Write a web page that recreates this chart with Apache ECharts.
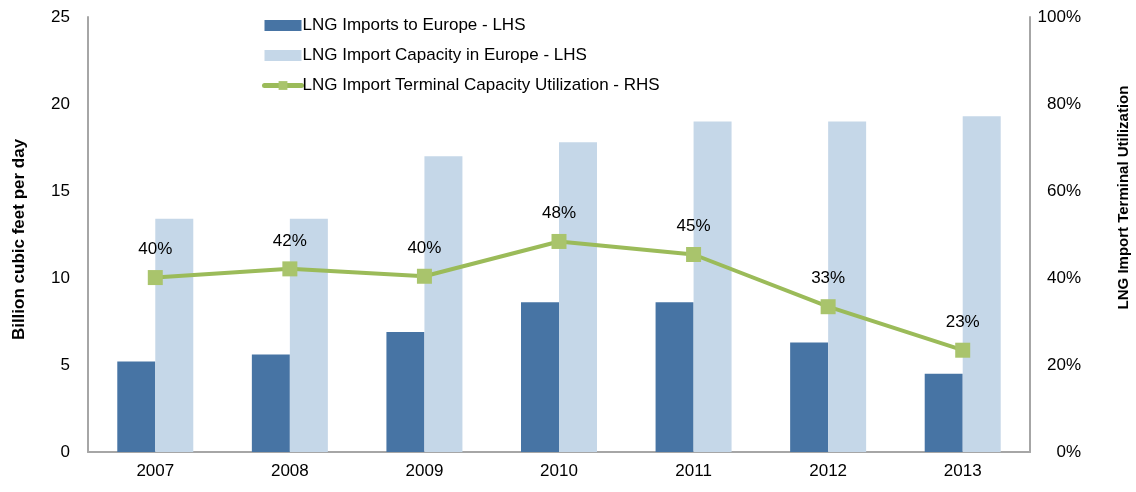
<!DOCTYPE html>
<html>
<head>
<meta charset="utf-8">
<script src="https://cdn.jsdelivr.net/npm/echarts@6/dist/echarts.min.js"></script>
<style>html,body{margin:0;padding:0;background:#fff}#c{width:1136px;height:492px}</style>
</head>
<body>
<div id="c"></div>
<script>
const categories = ['2007','2008','2009','2010','2011','2012','2013'];
const imports = [5.2, 5.6, 6.9, 8.6, 8.6, 6.3, 4.5];
const capacity = [13.4, 13.4, 17.0, 17.8, 19.0, 19.0, 19.3];
const utilization = [40.1, 42.1, 40.4, 48.4, 45.4, 33.4, 23.4];
const seriesNames = ['LNG Imports to Europe - LHS','LNG Import Capacity in Europe - LHS','LNG Import Terminal Capacity Utilization - RHS'];

const FONT = "'Liberation Sans', Arial, sans-serif";
const FS = 17;
const chart = echarts.init(document.getElementById('c'), null, {renderer:'canvas'});
chart.setOption({
  animation:false,
  backgroundColor:'#fff',
  textStyle:{fontFamily:FONT,color:'#000'},
  grid:{left:88,right:106,top:17,bottom:40,outerBoundsMode:'none',containLabel:false},
  legend:{
    orient:'vertical', left:257, top:12, itemGap:13,
    itemWidth:37, itemHeight:11,
    textStyle:{fontFamily:FONT,fontSize:FS,color:'#000',padding:[0,0,0,-4]},
    data:[
      {name:seriesNames[0],icon:'rect'},
      {name:seriesNames[1],icon:'rect'},
      {name:seriesNames[2],lineStyle:{width:5,cap:'round'}}
    ]
  },
  xAxis:{
    type:'category', data:categories,
    axisLine:{lineStyle:{color:'#A6A6A6',width:2}},
    axisTick:{show:false},
    axisLabel:{fontFamily:FONT,fontSize:FS,color:'#000',margin:11}
  },
  yAxis:[
    {type:'value',min:0,max:25,interval:5,
     name:'Billion cubic feet per day',nameLocation:'middle',nameGap:60,
     nameTextStyle:{fontFamily:FONT,fontSize:17,fontWeight:'bold',color:'#000',padding:[0,10,0,0]},
     axisLine:{show:true,lineStyle:{color:'#A6A6A6',width:2}},
     axisTick:{show:false},splitLine:{show:false},
     axisLabel:{fontFamily:FONT,fontSize:FS,color:'#000',margin:18}},
    {type:'value',min:0,max:100,interval:20,
     name:'LNG Import Terminal Utilization',nameLocation:'middle',nameGap:86,
     nameTextStyle:{fontFamily:FONT,fontSize:15,fontWeight:'bold',color:'#000',padding:[0,0,0,74]},
     axisLine:{show:true,lineStyle:{color:'#A6A6A6',width:2}},
     axisTick:{show:false},splitLine:{show:false},
     axisLabel:{fontFamily:FONT,fontSize:FS,color:'#000',margin:51,align:'right',formatter:'{value}%'}}
  ],
  series:[
    {name:seriesNames[0],type:'bar',data:imports,barWidth:38,barGap:'0%',
     itemStyle:{color:'#4774A4'}},
    {name:seriesNames[1],type:'bar',data:capacity,barWidth:38,barGap:'0%',
     itemStyle:{color:'#C5D7E8'}},
    {name:seriesNames[2],type:'line',yAxisIndex:1,data:utilization,
     symbol:'rect',symbolSize:15,z:5,
     lineStyle:{color:'#9BBB59',width:4},
     itemStyle:{color:'#A9C46C'},
     label:{show:true,position:'top',distance:12,fontFamily:FONT,fontSize:FS,color:'#000',
       formatter:p=>Math.round(p.value)+'%'}}
  ]
});
</script>
</body>
</html>
